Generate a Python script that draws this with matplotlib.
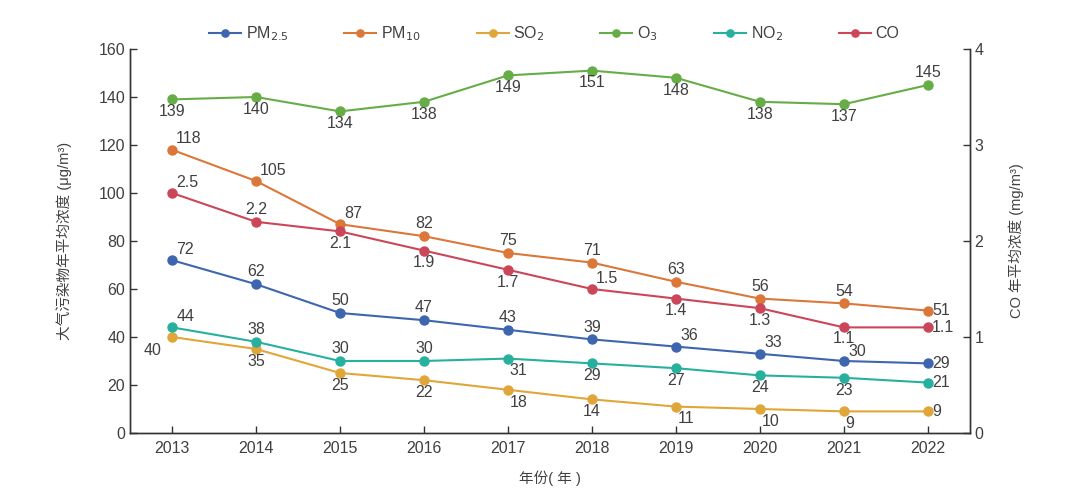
import matplotlib.pyplot as plt

plt.rcParams['font.family'] = ['Liberation Sans', 'Noto Sans CJK SC', 'DejaVu Sans']
plt.rcParams['axes.unicode_minus'] = False

# ---- data ----
years = ['2013', '2014', '2015', '2016', '2017', '2018', '2019', '2020', '2021', '2022']
pm25 = [72, 62, 50, 47, 43, 39, 36, 33, 30, 29]
pm10 = [118, 105, 87, 82, 75, 71, 63, 56, 54, 51]
so2 = [40, 35, 25, 22, 18, 14, 11, 10, 9, 9]
o3 = [139, 140, 134, 138, 149, 151, 148, 138, 137, 145]
no2 = [44, 38, 30, 30, 31, 29, 27, 24, 23, 21]
co = [2.5, 2.2, 2.1, 1.9, 1.7, 1.5, 1.4, 1.3, 1.1, 1.1]

# label placement per point
place_pm25 = ['ar', 'a', 'a', 'a', 'a', 'a', 'ar', 'ar', 'rr', 'r']
place_pm10 = ['ar', 'ar', 'ar', 'a', 'a', 'a', 'a', 'a', 'a', 'r']
place_so2 = ['bl', 'b', 'b', 'b', 'br', 'b', 'br', 'br', 'br', 'r']
place_o3 = ['b', 'b', 'b', 'b', 'b', 'b', 'b', 'b', 'b', 'a']
place_no2 = ['ar', 'a', 'a', 'a', 'br', 'b', 'b', 'b', 'b', 'r']
place_co = ['ar', 'a', 'b', 'b', 'b', 'ar', 'b', 'b', 'bt', 'r']

offsets = {
    'a': ((0, 3.5), 'center', 'bottom'),
    'b': ((0, -3.5), 'center', 'top'),
    'bt': ((0, -2.5), 'center', 'top'),
    'r': ((3, 0), 'left', 'center'),
    'rr': ((3, 1.5), 'left', 'bottom'),
    'ar': ((3, 2.5), 'left', 'bottom'),
    'br': ((1, -3.5), 'left', 'top'),
    'bl': ((-14, -4), 'center', 'top'),
}

txt = '#404040'
spine_c = '#333333'

fig = plt.figure(figsize=(10.8, 4.99), dpi=100)
ax = fig.add_axes([0.1204, 0.1323, 0.7776, 0.7695])
ax2 = ax.twinx()

x = list(range(len(years)))


def draw(a, vals, color, name, places, fmt):
    line, = a.plot(x, vals, color=color, lw=1.5, marker='o', ms=6.5,
                   label=name, zorder=3)
    for xi, v, p in zip(x, vals, places):
        off, ha, va = offsets[p]
        a.annotate(fmt.format(v), (xi, v), xytext=off, textcoords='offset points',
                   ha=ha, va=va, fontsize=11.5, color=txt)
    return line


h = []
h.append(draw(ax, pm25, '#3e66ae', 'PM$_{2.5}$', place_pm25, '{}'))
h.append(draw(ax, pm10, '#dc773a', 'PM$_{10}$', place_pm10, '{}'))
h.append(draw(ax, so2, '#e0a63a', 'SO$_{2}$', place_so2, '{}'))
h.append(draw(ax, o3, '#66ad48', 'O$_{3}$', place_o3, '{}'))
h.append(draw(ax, no2, '#28b09e', 'NO$_{2}$', place_no2, '{}'))
h.append(draw(ax2, co, '#cc4659', 'CO', place_co, '{:.1f}'))

ax.set_xlim(-0.5, 9.5)
ax.set_ylim(0, 160)
ax2.set_ylim(0, 4)
ax.set_xticks(x)
ax.set_xticklabels(years)
ax.set_yticks(range(0, 161, 20))
ax2.set_yticks([0, 1, 2, 3, 4])

for a in (ax, ax2):
    a.spines['top'].set_visible(False)
    for s in ('left', 'right', 'bottom'):
        a.spines[s].set_color(spine_c)
        a.spines[s].set_linewidth(1.0)
    a.tick_params(direction='in', length=5, width=1, colors=spine_c,
                  labelcolor=txt, labelsize=11.5)
ax.tick_params(axis='x', pad=6)

ax.set_ylabel('大气污染物年平均浓度 (μg/m³)', fontsize=10.5, color=txt, labelpad=19)
ax2.set_ylabel('CO 年平均浓度 (mg/m³)', fontsize=10.5, color=txt, labelpad=18)
ax.set_xlabel('年份( 年 )', fontsize=10.5, color=txt, labelpad=10)

fig.legend(handles=h, loc='upper center', bbox_to_anchor=(0.513, 0.98), ncol=6,
           frameon=False, fontsize=11.5, columnspacing=3.5, handlelength=2.0,
           handletextpad=0.3, labelcolor=txt, markerscale=0.8)

fig.savefig('out.png', dpi=100)
